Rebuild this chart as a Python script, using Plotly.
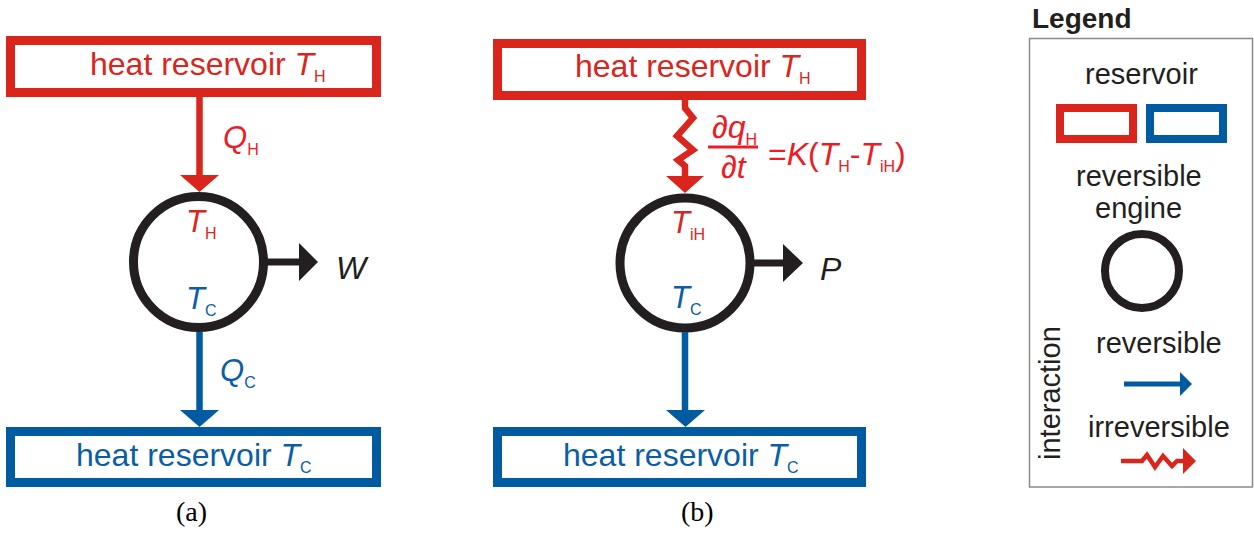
import plotly.graph_objects as go

W, H = 1254, 534
RED = "#da251d"
BLUE = "#005ba1"
BLACK = "#231f20"
TRED = "#ec1c24"
TBLUE = "#0a5ea6"
FONT = "Liberation Sans, Arial, sans-serif"
SERIF = "Liberation Serif, serif"

# ---- text content ----
reservoir_word = "heat reservoir"
hot_sub, cold_sub, int_sub = "H", "C", "iH"
work_labels = ["W", "P"]
panel_labels = ["(a)", "(b)"]
legend_title = "Legend"
legend_items = ["reservoir", "reversible", "engine", "reversible", "irreversible"]
legend_side = "interaction"

fig = go.Figure()
shapes, ann = [], []


def sub(s, size=16):
    return f"<sub><span style='font-size:{size}px'>{s}</span></sub>"


def Tsym(s, size=16):
    return "<i>T</i>" + sub(s, size)


def rect(x0, y0, x1, y1, color, w):
    shapes.append(dict(type="rect", x0=x0, y0=y0, x1=x1, y1=y1, layer="below",
                       line=dict(color=color, width=w), fillcolor="rgba(0,0,0,0)"))


def line(pts, color, w):
    d = "M " + " L ".join(f"{x},{y}" for x, y in pts)
    shapes.append(dict(type="path", path=d, layer="below",
                       line=dict(color=color, width=w)))


def tri(pts, color):
    d = "M " + " L ".join(f"{x},{y}" for x, y in pts) + " Z"
    shapes.append(dict(type="path", path=d, fillcolor=color, layer="below",
                       line=dict(width=0)))


def circ(x0, y0, x1, y1, color, w):
    shapes.append(dict(type="circle", x0=x0, y0=y0, x1=x1, y1=y1, layer="below",
                       line=dict(color=color, width=w), fillcolor="rgba(0,0,0,0)"))


def text(x, y, s, size, color, xa="center", ya="middle", family=FONT, angle=0):
    ann.append(dict(x=x, y=y, text=s, showarrow=False, xanchor=xa, yanchor=ya,
                    textangle=angle, font=dict(size=size, color=color, family=family)))


# ================= panel (a) =================
rect(10.5, 40.5, 376.5, 92.5, RED, 9)
text(207.5, 65, reservoir_word + " " + Tsym(hot_sub), 32, RED)
line([(199.5, 97), (199.5, 177)], RED, 6.5)
tri([(180, 175), (219, 175), (199.5, 192)], RED)
text(240.5, 139, "<i>Q</i>" + sub(hot_sub), 31, TRED)
circ(133.5, 196.5, 263.5, 327.5, BLACK, 9)
text(201, 223, Tsym(hot_sub), 31, RED)
text(201, 300, Tsym(cold_sub), 31, TBLUE)
line([(263, 262), (300, 262)], BLACK, 7)
tri([(299, 243), (299, 281), (318, 262)], BLACK)
text(352, 268, "<i>" + work_labels[0] + "</i>", 32, BLACK)
line([(199.5, 332), (199.5, 412)], BLUE, 6.5)
tri([(180, 410), (219, 410), (199.5, 427)], BLUE)
text(237.5, 372, "<i>Q</i>" + sub(cold_sub), 31, TBLUE)
rect(10.5, 431.5, 376.5, 482.5, BLUE, 9)
text(194, 456, reservoir_word + " " + Tsym(cold_sub), 32, TBLUE)
text(191, 511, panel_labels[0], 28, "#000000", family=SERIF)

# ================= panel (b) =================
rect(497.5, 43.5, 861.5, 95.5, RED, 9)
text(693, 67, reservoir_word + " " + Tsym(hot_sub), 32, RED)
line([(685, 99), (685, 108), (693, 118), (677, 136), (693, 150), (678, 160), (685, 166), (685, 178)], RED, 6.5)
tri([(666, 176), (704, 176), (685, 193)], RED)
text(734, 128, "<i>∂q</i>" + sub(hot_sub), 32, TRED)
line([(708, 147), (758, 147)], TRED, 3)
text(733.5, 167, "<i>∂t</i>", 32, TRED)
text(766, 155, "=<i>K</i>(" + Tsym(hot_sub) + "-" + Tsym(int_sub) + ")", 32, TRED, xa="left")
circ(620, 198, 750, 328, BLACK, 9)
text(687.5, 224, Tsym(int_sub), 31, RED)
text(686.5, 299, Tsym(cold_sub), 31, TBLUE)
line([(749, 263), (785, 263)], BLACK, 7)
tri([(783, 244), (783, 282), (803, 263)], BLACK)
text(830.5, 269, "<i>" + work_labels[1] + "</i>", 32, BLACK)
line([(685, 332), (685, 412)], BLUE, 6.5)
tri([(666, 410), (705, 410), (685.5, 427)], BLUE)
rect(497.5, 431.5, 861.5, 482.5, BLUE, 9)
text(680.5, 456, reservoir_word + " " + Tsym(cold_sub), 32, TBLUE)
text(697, 511, panel_labels[1], 28, "#000000", family=SERIF)

# ================= legend =================
text(1030, 18, "<b>" + legend_title + "</b>", 28, BLACK, xa="left")
rect(1029.5, 38.5, 1252.5, 487, "#8a8a8a", 1.5)
text(1141, 74, legend_items[0], 29, BLACK)
rect(1060, 108, 1133, 139, RED, 8)
rect(1150, 108, 1223, 139, BLUE, 8)
text(1138.5, 176, legend_items[1], 29, BLACK)
text(1138.5, 208, legend_items[2], 29, BLACK)
circ(1105, 234, 1179, 308, BLACK, 8)
text(1050, 393, legend_side, 29, BLACK, angle=-90)
text(1158.5, 343, legend_items[3], 29, BLACK)
line([(1124, 384), (1181, 384)], BLUE, 5)
tri([(1180, 372), (1180, 396), (1192, 384)], BLUE)
text(1158.5, 427, legend_items[4], 29, BLACK)
line([(1121, 461), (1142, 461), (1147, 455), (1155, 467), (1163, 456), (1172, 466), (1177, 461), (1185, 461)], RED, 4.5)
tri([(1183, 448), (1183, 474), (1196, 461)], RED)

fig.update_layout(
    width=W, height=H, margin=dict(l=0, r=0, t=0, b=0),
    paper_bgcolor="white", plot_bgcolor="white",
    xaxis=dict(range=[0, W], visible=False, fixedrange=True),
    yaxis=dict(range=[H, 0], visible=False, fixedrange=True),
    shapes=shapes, annotations=ann, showlegend=False,
)
fig.write_html("out.html", config={"displayModeBar": False})
